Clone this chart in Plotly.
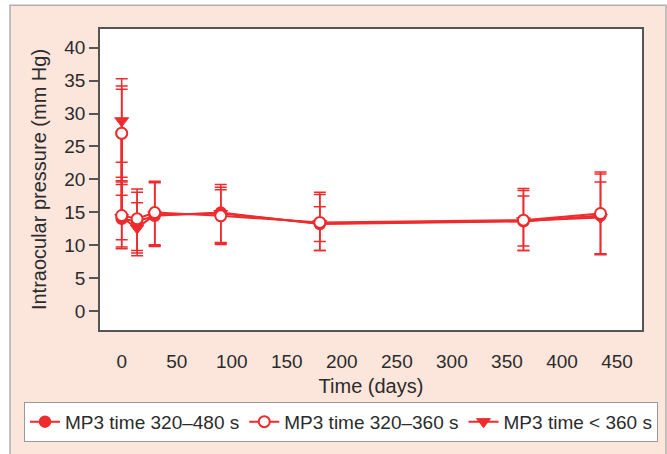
import plotly.graph_objects as go

# ---- data ----
days = [0, 0, 14, 30, 90, 180, 365, 435]

filled_y = [27.0, 14.0, 13.6, 14.45, 14.95, 13.2, 13.6, 14.5]
filled_up = [6.7, 5.6, 4.45, 5.05, 4.25, 4.5, 4.7, 6.3]
filled_dn = [6.7, 4.55, 4.8, 4.65, 4.85, 4.0, 4.4, 5.95]

open_y = [27.0, 14.5, 14.0, 14.95, 14.45, 13.45, 13.8, 14.8]
open_up = [7.2, 4.7, 4.55, 4.75, 3.95, 4.6, 4.8, 6.3]
open_dn = [7.2, 4.8, 4.8, 4.9, 4.05, 4.25, 4.6, 6.1]

tri_y = [28.9, 14.2, 12.6, 14.6, 14.8, 13.3, 13.7, 14.2]
tri_up = [6.4, 3.4, 3.85, 5.0, 4.0, 2.55, 3.75, 5.4]
tri_dn = [6.3, 3.4, 4.2, 4.7, 4.5, 2.75, 3.85, 5.6]

names = ["MP3 time 320\u2013480 s", "MP3 time 320\u2013360 s", "MP3 time < 360 s"]
x_ticks = [0, 50, 100, 150, 200, 250, 300, 350, 400, 450]
y_ticks = [0, 5, 10, 15, 20, 25, 30, 35, 40]

RED = "#ef2b2d"
FONT = "Liberation Sans, Arial, sans-serif"
TXT = "#2b2b2b"
FRAME = "#555555"

def err(up, dn):
    return dict(type="data", symmetric=False, array=up, arrayminus=dn,
                color=RED, thickness=1.5, width=6)

fig = go.Figure()
# draw triangles first, then filled, then open circles on top
fig.add_trace(go.Scatter(
    x=days, y=tri_y, name=names[2], mode="lines+markers", legendrank=3,
    line=dict(color=RED, width=2),
    marker=dict(symbol="triangle-down", size=12, color=RED, line=dict(color=RED, width=1)),
    error_y=err(tri_up, tri_dn)))
fig.add_trace(go.Scatter(
    x=days, y=filled_y, name=names[0], mode="lines+markers", legendrank=1,
    line=dict(color=RED, width=2),
    marker=dict(symbol="circle", size=11, color=RED, line=dict(color=RED, width=1.5)),
    error_y=err(filled_up, filled_dn)))
fig.add_trace(go.Scatter(
    x=days, y=open_y, name=names[1], mode="lines+markers", legendrank=2,
    line=dict(color=RED, width=2),
    marker=dict(symbol="circle", size=11, color="white", line=dict(color=RED, width=2)),
    error_y=err(open_up, open_dn)))

L, R, T, B = 100, 25, 29, 120
W, H = 667, 454
pw, ph = W - L - R, H - T - B

def px(xp):
    return (xp - L) / pw

def py(yp):
    return (H - B - yp) / ph

fig.update_layout(
    width=W, height=H,
    margin=dict(l=L, r=R, t=T, b=B),
    paper_bgcolor="white", plot_bgcolor="white",
    font=dict(family=FONT, size=19, color=TXT),
    showlegend=True,
    legend=dict(orientation="h", x=px(24), xanchor="left", y=py(427), yanchor="middle",
                bgcolor="white", bordercolor="#9a9a9a", borderwidth=1,
                font=dict(family=FONT, size=19, color=TXT),
                itemwidth=30, tracegroupgap=0),
    shapes=[
        dict(type="rect", xref="paper", yref="paper", layer="below",
             x0=px(10), x1=px(666), y0=py(470), y1=py(5),
             fillcolor="#fce5db", line=dict(color="#b0b0b0", width=1.5)),
        dict(type="rect", xref="paper", yref="paper", layer="below",
             x0=0, x1=1, y0=0, y1=1, fillcolor="white", line=dict(width=0)),
    ],
    xaxis=dict(range=[-19.7, 472.7], tickvals=x_ticks, ticks="outside", ticklen=13,
               tickcolor="rgba(0,0,0,0)", showgrid=False,
               zeroline=False, showline=True, mirror=True, linecolor=FRAME, linewidth=1.5,
               tickfont=dict(size=19, color=TXT),
               title=dict(text="Time (days)", font=dict(size=20, color=TXT), standoff=8)),
    yaxis=dict(range=[-2.9, 42.85], tickvals=y_ticks, ticks="outside", ticklen=9,
               tickwidth=1.5, tickcolor=FRAME, showgrid=False, zeroline=False,
               showline=True, mirror=True, linecolor=FRAME, linewidth=1.5,
               tickfont=dict(size=19, color=TXT),
               title=dict(text="Intraocular pressure (mm Hg)", font=dict(size=20, color=TXT),
                          standoff=12)),
)

fig.write_html("out.html", config={"displayModeBar": False},
               post_script="document.body.style.margin='0px';")
